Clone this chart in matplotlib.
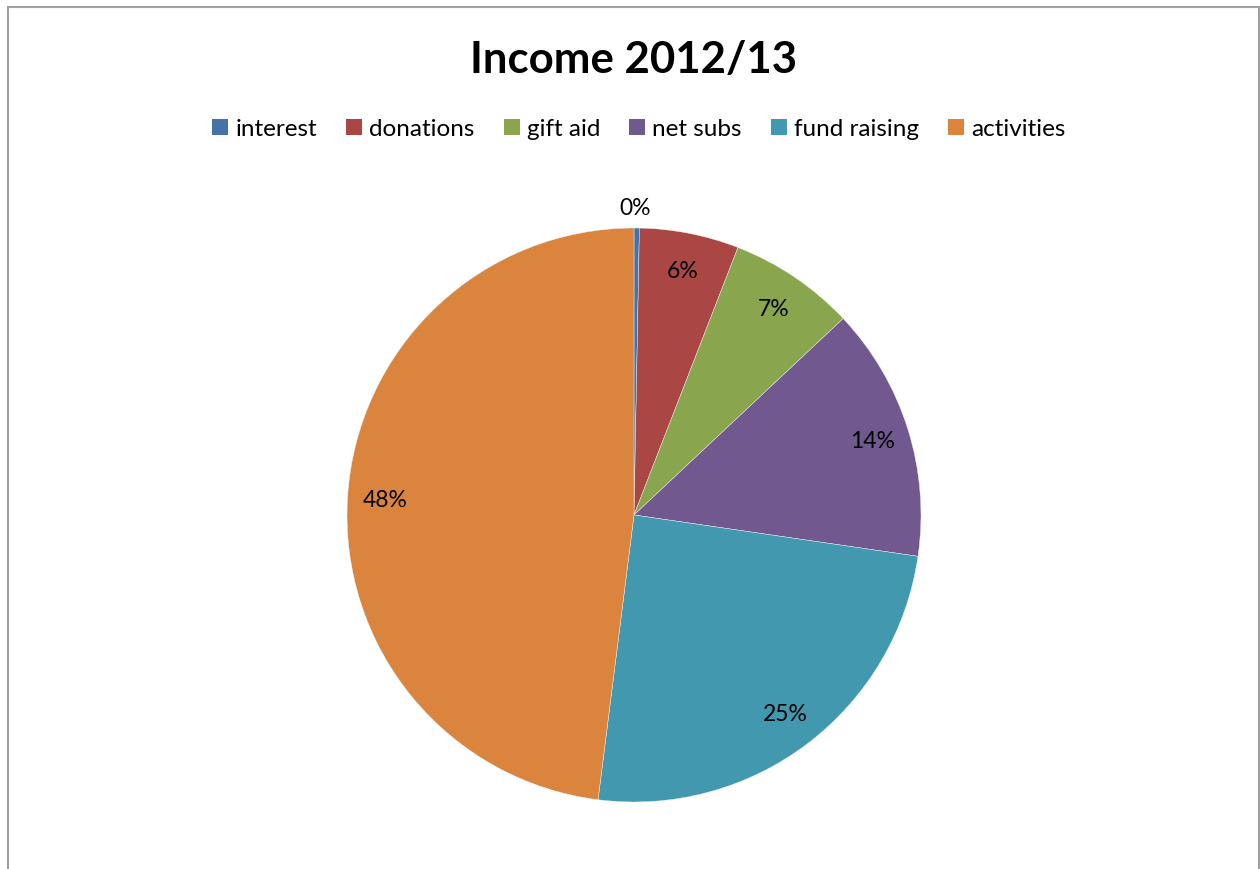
import matplotlib
matplotlib.use("Agg")
import matplotlib.pyplot as plt
from matplotlib.patches import Patch, Rectangle

categories = ["interest", "donations", "gift aid", "net subs", "fund raising", "activities"]
shares = [0.3, 5.6, 7.1, 14.3, 24.7, 48.0]
colors = ["#4572A7", "#AA4644", "#89A54E", "#71588F", "#4198AF", "#DB843D"]

plt.rcParams["font.family"] = ["Lato", "DejaVu Sans"]

fig = plt.figure(figsize=(12.6, 8.7), dpi=100)

# chart frame
fig.add_artist(Rectangle((8 / 1260, -0.01), 1251 / 1260, (870 - 8) / 870 + 0.01,
                         transform=fig.transFigure, fill=False,
                         edgecolor="#A0A0A0", linewidth=1.5))

# pie placed so the centre is at (634, 516) px with radius 287 px
ax = fig.add_axes([(634 - 287) / 1260, (870 - 803) / 870, 574 / 1260, 574 / 870])
wedges, texts, autotexts = ax.pie(
    shares, colors=colors, startangle=90, counterclock=False,
    autopct="%1.0f%%", pctdistance=0.87,
    wedgeprops=dict(edgecolor="#F4F4F4", linewidth=0.3),
    textprops=dict(fontsize=16.5, color="black"))
# the tiny slice gets its label outside
autotexts[0].set_position((0.005, 1.07))
ax.set_xlim(-1, 1)
ax.set_ylim(-1, 1)
ax.set_aspect("equal")
ax.axis("off")

fig.text(634 / 1260, 1 - 60 / 870, "Income 2012/13", ha="center", va="center",
         fontsize=31.5, fontweight="bold")

handles = [Patch(facecolor=c, edgecolor="none") for c in colors]
fig.legend(handles, categories, loc="center", bbox_to_anchor=(639 / 1260, 1 - 130 / 870),
           ncol=6, frameon=False, fontsize=17.5, handlelength=0.65, handleheight=0.65,
           handletextpad=0.3, columnspacing=1.2)

fig.savefig("out.png", dpi=100)
